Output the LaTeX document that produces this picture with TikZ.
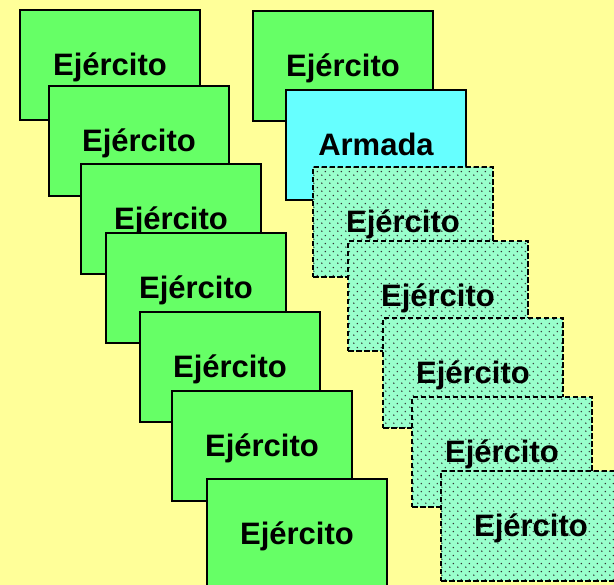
\documentclass[tikz,border=0pt]{standalone}
\usepackage{fontspec}
\setmainfont{Liberation Sans}
\usetikzlibrary{patterns.meta}
\definecolor{bgyellow}{HTML}{FFFF99}
\definecolor{boxgreen}{HTML}{66FF66}
\definecolor{boxcyan}{HTML}{66FFFF}
\definecolor{boxmint}{HTML}{99FFCC}
\tikzdeclarepattern{
  name=mintdots, type=uncolored,
  bounding box={(0pt,0pt) and (8pt,8pt)},
  tile size={(8pt,8pt)},
  code={\fill (2pt,2pt) circle (0.85pt); \fill (6pt,6pt) circle (0.85pt);}
}
\tikzset{
  unit/.style={rectangle, draw=black, line width=1.8pt, minimum width=180pt,
    minimum height=110pt, inner sep=0pt, text height=22pt, text depth=0pt,
    font=\fontsize{31}{31}\selectfont\bfseries},
  army/.style={unit, fill=boxgreen},
  navy/.style={unit, fill=boxcyan},
  ghost/.style={unit, draw=none, fill=boxmint,
    postaction={pattern={mintdots}, pattern color=black!80},
    postaction={draw=black, line width=2pt, dash pattern=on 5.5pt off 2.5pt}}
}
\begin{document}
\begin{tikzpicture}[x=1pt,y=-1pt]
\useasboundingbox (0,0) rectangle (614,585);
\fill[bgyellow] (0,0) rectangle (614,585);
\clip (0,0) rectangle (614,585);
% left column
\node[army] (l1) at (110,65) {Ejército};
\node[army] (l2) at (139,141) {Ejército};
\node[army] (l3) at (171,219) {Ejército};
\node[army] (l4) at (196,288) {Ejército};
\node[army] (l5) at (230,367) {Ejército};
\node[army] (l6) at (262,446) {Ejército};
\node[army] (l7) at (297,534) {Ejército};
% right column
\node[army] (r1) at (343,66) {Ejército};
\node[navy] (r2) at (376,145) {Armada};
\node[ghost] (r3) at (403,222) {Ejército};
\node[ghost] (r4) at (438,296) {Ejército};
\node[ghost] (r5) at (473,373) {Ejército};
\node[ghost] (r6) at (502,452) {Ejército};
\node[ghost] (r7) at (531,526) {Ejército};
\end{tikzpicture}
\end{document}
